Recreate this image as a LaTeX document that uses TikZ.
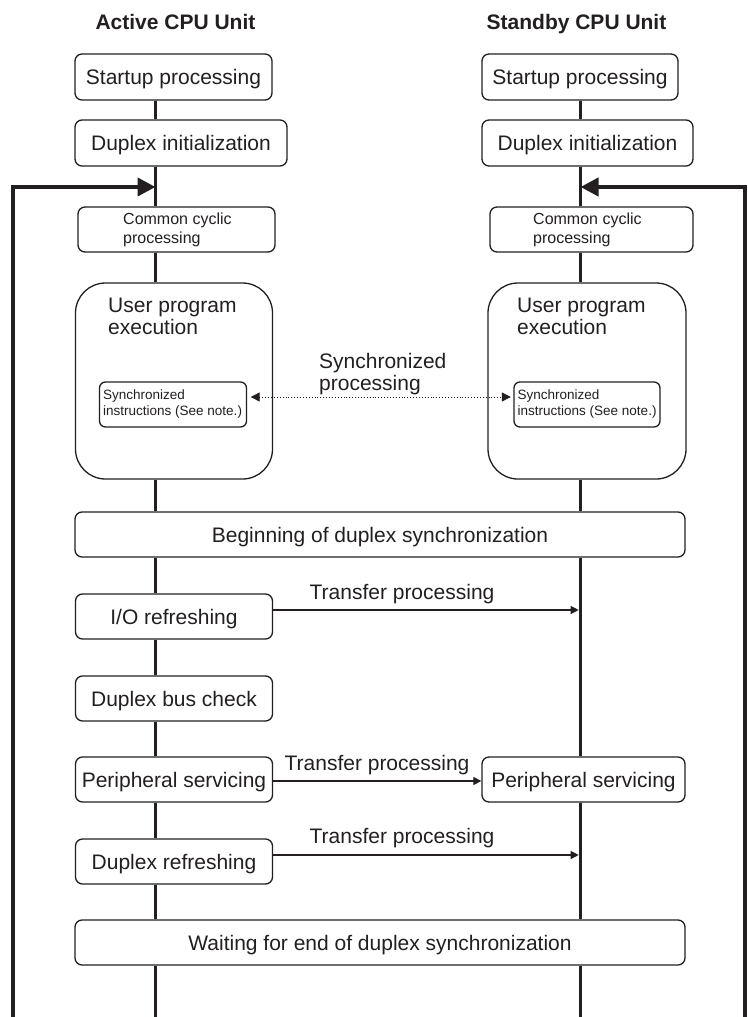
\documentclass[tikz,border=0pt]{standalone}
\usepackage{fontspec}
\setmainfont{Liberation Sans}
\usetikzlibrary{arrows.meta,calc}
\definecolor{ink}{HTML}{231F20}
\begin{document}
\begin{tikzpicture}[x=1pt,y=-1pt,
  every node/.style={text=ink},
  big/.style={font=\fontsize{21}{22}\selectfont},
  mid/.style={font=\fontsize{16}{19}\selectfont},
  tiny/.style={font=\fontsize{13.5}{16}\selectfont},
  title/.style={font=\fontsize{21}{22}\selectfont\bfseries, inner sep=0pt},
  box/.style={draw=ink, line width=1.3pt, rounded corners=7pt, fill=white, inner sep=0pt},
  onebox/.style={box, big, text height=15pt, text depth=0pt},
  txt/.style={anchor=north west, align=left, inner sep=0pt},
  spine/.style={draw=ink, line width=3.6pt},
  loopline/.style={draw=ink, line width=4pt, -{Triangle[length=18pt,width=18pt]}},
  xfer/.style={draw=ink, line width=1.2pt, -{Triangle[length=8pt,width=8pt]}, shorten >=1.8pt},
  sync/.style={draw=ink, line width=0.9pt, dotted, {Triangle[length=9pt,width=9pt]}-{Triangle[length=9pt,width=9pt]}, shorten <=3.5pt, shorten >=2.5pt}
]
\useasboundingbox (0,0) rectangle (747,1017);

% spine reference coordinates
\coordinate (lsp) at (155.5,0);
\coordinate (rsp) at (580.5,0);
\coordinate (lend) at (155.5,1017);
\coordinate (rend) at (580.5,1017);

% titles
\node[title, anchor=base] (ltitle) at (175.5,29.5) {Active CPU Unit};
\node[title, anchor=base] (rtitle) at (576.5,29.5) {Standby CPU Unit};

% left column
\node[onebox, minimum width=197pt, minimum height=46pt] (lstart) at (173.5,77) {Startup processing};
\node[onebox, minimum width=212pt, minimum height=46pt] (linit) at (181,143) {Duplex initialization};
\node[box, minimum width=197pt, minimum height=45pt] (lcyc) at (176.5,229.5) {};
\node[mid, txt] (lcyct) at (123,212.5) {Common cyclic\\processing};
\node[box, rounded corners=30pt, minimum width=197pt, minimum height=196pt] (luser) at (174,381) {};
\node[big, txt] (lusert) at (108,298) {User program\\execution};
\node[box, rounded corners=6pt, minimum width=147pt, minimum height=45pt] (linner) at (173,404.5) {};
\node[tiny, txt] (linnert) at (103,389.5) {Synchronized\\instructions (See note.)};
\node[onebox, minimum width=610pt, minimum height=45pt] (begin) at (380,534.5) {Beginning of duplex synchronization};
\node[onebox, minimum width=197pt, minimum height=45pt] (lio) at (174,616.5) {I/O refreshing};
\node[onebox, minimum width=197pt, minimum height=45pt] (lbus) at (174,698.5) {Duplex bus check};
\node[onebox, minimum width=197pt, minimum height=45pt] (lper) at (174,779.5) {Peripheral servicing};
\node[onebox, minimum width=197pt, minimum height=45pt] (lref) at (174,861.5) {Duplex refreshing};
\node[onebox, minimum width=610pt, minimum height=45pt] (wait) at (380,942.5) {Waiting for end of duplex synchronization};

% right column
\node[onebox, minimum width=196pt, minimum height=46pt] (rstart) at (580,77) {Startup processing};
\node[onebox, minimum width=211pt, minimum height=46pt] (rinit) at (587.5,143) {Duplex initialization};
\node[box, minimum width=203pt, minimum height=45pt] (rcyc) at (591.5,229.5) {};
\node[mid, txt] (rcyct) at (533,212.5) {Common cyclic\\processing};
\node[box, rounded corners=30pt, minimum width=198pt, minimum height=196pt] (ruser) at (587,381) {};
\node[big, txt] (rusert) at (517,298) {User program\\execution};
\node[box, rounded corners=6pt, minimum width=146pt, minimum height=45pt] (rinner) at (587,404.5) {};
\node[tiny, txt] (rinnert) at (517.5,389.5) {Synchronized\\instructions (See note.)};
\node[onebox, minimum width=203pt, minimum height=45pt] (rper) at (583.5,779.5) {Peripheral servicing};

% left spine
\draw[spine] (lstart.south -| lsp) -- (linit.north -| lsp);
\draw[spine] (linit.south -| lsp) -- (lcyc.north -| lsp);
\draw[spine] (lcyc.south -| lsp) -- (luser.north -| lsp);
\draw[spine] (luser.south -| lsp) -- (begin.north -| lsp);
\draw[spine] (begin.south -| lsp) -- (lio.north -| lsp);
\draw[spine] (lio.south -| lsp) -- (lbus.north -| lsp);
\draw[spine] (lbus.south -| lsp) -- (lper.north -| lsp);
\draw[spine] (lper.south -| lsp) -- (lref.north -| lsp);
\draw[spine] (lref.south -| lsp) -- (wait.north -| lsp);
\draw[spine] (wait.south -| lsp) -- (lend);

% right spine
\draw[spine] (rstart.south -| rsp) -- (rinit.north -| rsp);
\draw[spine] (rinit.south -| rsp) -- (rcyc.north -| rsp);
\draw[spine] (rcyc.south -| rsp) -- (ruser.north -| rsp);
\draw[spine] (ruser.south -| rsp) -- (begin.north -| rsp);
\draw[spine] (begin.south -| rsp) -- (rper.north -| rsp);
\draw[spine] (rper.south -| rsp) -- (wait.north -| rsp);
\draw[spine] (wait.south -| rsp) -- (rend);

% loop-back arrows
\coordinate (lbot) at (12.5,1017);
\coordinate (ljoin) at (155.5,187);
\coordinate (rbot) at (744.5,1017);
\coordinate (rjoin) at (580.5,187);
\draw[loopline] (lbot) |- (ljoin);
\draw[loopline] (rbot) |- (rjoin);

% synchronized processing
\draw[sync] ([yshift=7.5pt]linner.east) -- ([yshift=7.5pt]rinner.west);
\node[big, txt] (synct) at (319,353) {Synchronized\\processing};

% transfer processing
\draw[xfer] ([yshift=6.5pt]lio.east) -- ([yshift=6.5pt]lio.east -| rsp);
\node[big, anchor=base] (t1) at (402,599) {Transfer processing};
\draw[xfer, shorten >=0pt] ([yshift=-1.5pt]lper.east) -- ([yshift=-1.5pt]rper.west);
\node[big, anchor=base] (t2) at (377,770.5) {Transfer processing};
\draw[xfer] ([yshift=6.5pt]lref.east) -- ([yshift=6.5pt]lref.east -| rsp);
\node[big, anchor=base] (t3) at (402,843.5) {Transfer processing};
\end{tikzpicture}
\end{document}
